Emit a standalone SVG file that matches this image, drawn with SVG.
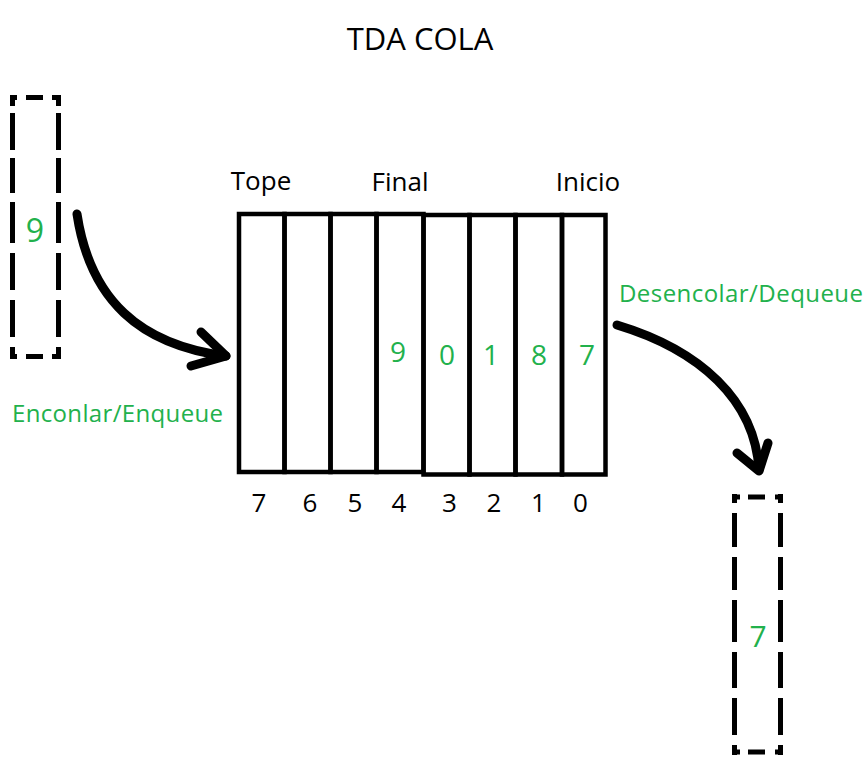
<svg xmlns="http://www.w3.org/2000/svg" width="866" height="762" viewBox="0 0 866 762">
<style>
text{font-family:"Open Sans","Noto Sans","DejaVu Sans",sans-serif}
.blk{fill:#000}
.grn{fill:#22b14c}
.cell{fill:none;stroke:#000;stroke-width:4.5}
.dash{fill:none;stroke:#000;stroke-width:5;stroke-linecap:butt}
.arr{fill:none;stroke:#000;stroke-width:9;stroke-linecap:round;stroke-linejoin:round}
</style>
<rect width="866" height="762" fill="#fff"/>
<text id="title" class="blk" x="420" y="50" font-size="31" text-anchor="middle">TDA COLA</text>
<g id="labels">
<text class="blk" x="261" y="190" font-size="26" text-anchor="middle">Tope</text>
<text class="blk" x="400" y="191" font-size="26" text-anchor="middle">Final</text>
<text class="blk" x="588" y="191" font-size="26" text-anchor="middle">Inicio</text>
<text class="grn" x="12" y="422" font-size="24" textLength="211">Enconlar/Enqueue</text>
<text class="grn" x="619" y="302" font-size="24" textLength="244">Desencolar/Dequeue</text>
</g>
<g id="queue">
<rect class="cell" x="239" y="214" width="45.5" height="258"/>
<rect class="cell" x="284.5" y="214" width="46" height="258"/>
<rect class="cell" x="330.5" y="214" width="46" height="258"/>
<rect class="cell" x="376.5" y="214" width="47" height="258"/>
<rect class="cell" x="423.5" y="215" width="46" height="259.5"/>
<rect class="cell" x="469.5" y="215" width="46" height="259.5"/>
<rect class="cell" x="515.5" y="215" width="46.5" height="259.5"/>
<rect class="cell" x="562" y="215" width="43.5" height="259.5"/>
<g class="grn" font-size="28" text-anchor="middle">
<text x="398" y="362">9</text>
<text x="447" y="365">0</text>
<text x="491" y="365">1</text>
<text x="539" y="365">8</text>
<text x="587" y="365">7</text>
</g>
</g>
<g id="indices" class="blk" font-size="26" text-anchor="middle">
<text x="259" y="512">7</text>
<text x="310" y="512">6</text>
<text x="355" y="512">5</text>
<text x="399" y="512">4</text>
<text x="449.5" y="512">3</text>
<text x="494" y="512">2</text>
<text x="538.5" y="512">1</text>
<text x="580.5" y="512">0</text>
</g>
<g id="inbox">
<path class="dash" d="M10,97.5H61" stroke-dasharray="7 9 17 9 9"/>
<path class="dash" d="M10,356.5H61" stroke-dasharray="7 9 17 9 9"/>
<path class="dash" d="M12.5,95V359" stroke-dasharray="11 7 37 8 35 9 41 10 37 10 37 10 12 100"/>
<path class="dash" d="M58.5,95V359" stroke-dasharray="11 7 37 8 35 9 41 10 37 10 37 10 12 100"/>
<text class="grn" x="35" y="242" font-size="32" text-anchor="middle">9</text>
</g>
<g id="outbox">
<path class="dash" d="M732,497H783" stroke-dasharray="8 8 17 10 8"/>
<path class="dash" d="M732,752H783" stroke-dasharray="8 8 17 10 8"/>
<path class="dash" d="M734.5,494V755" stroke-dasharray="9 10 34 10 33 10 42 10 36 10 37 10 10 100"/>
<path class="dash" d="M780.5,494V755" stroke-dasharray="9 10 34 10 33 10 42 10 36 10 37 10 10 100"/>
<text class="grn" x="758" y="647" font-size="30" text-anchor="middle">7</text>
</g>
<g id="connectors">
<path class="arr" d="M77,214 C90,300 140,345 226,356"/>
<path class="arr" d="M201,332 L226,356 L191,366"/>
<path class="arr" d="M617,325 C700,350 755,400 759,470"/>
<path class="arr" d="M737,453 L759,471 L768,443"/>
</g>
</svg>
